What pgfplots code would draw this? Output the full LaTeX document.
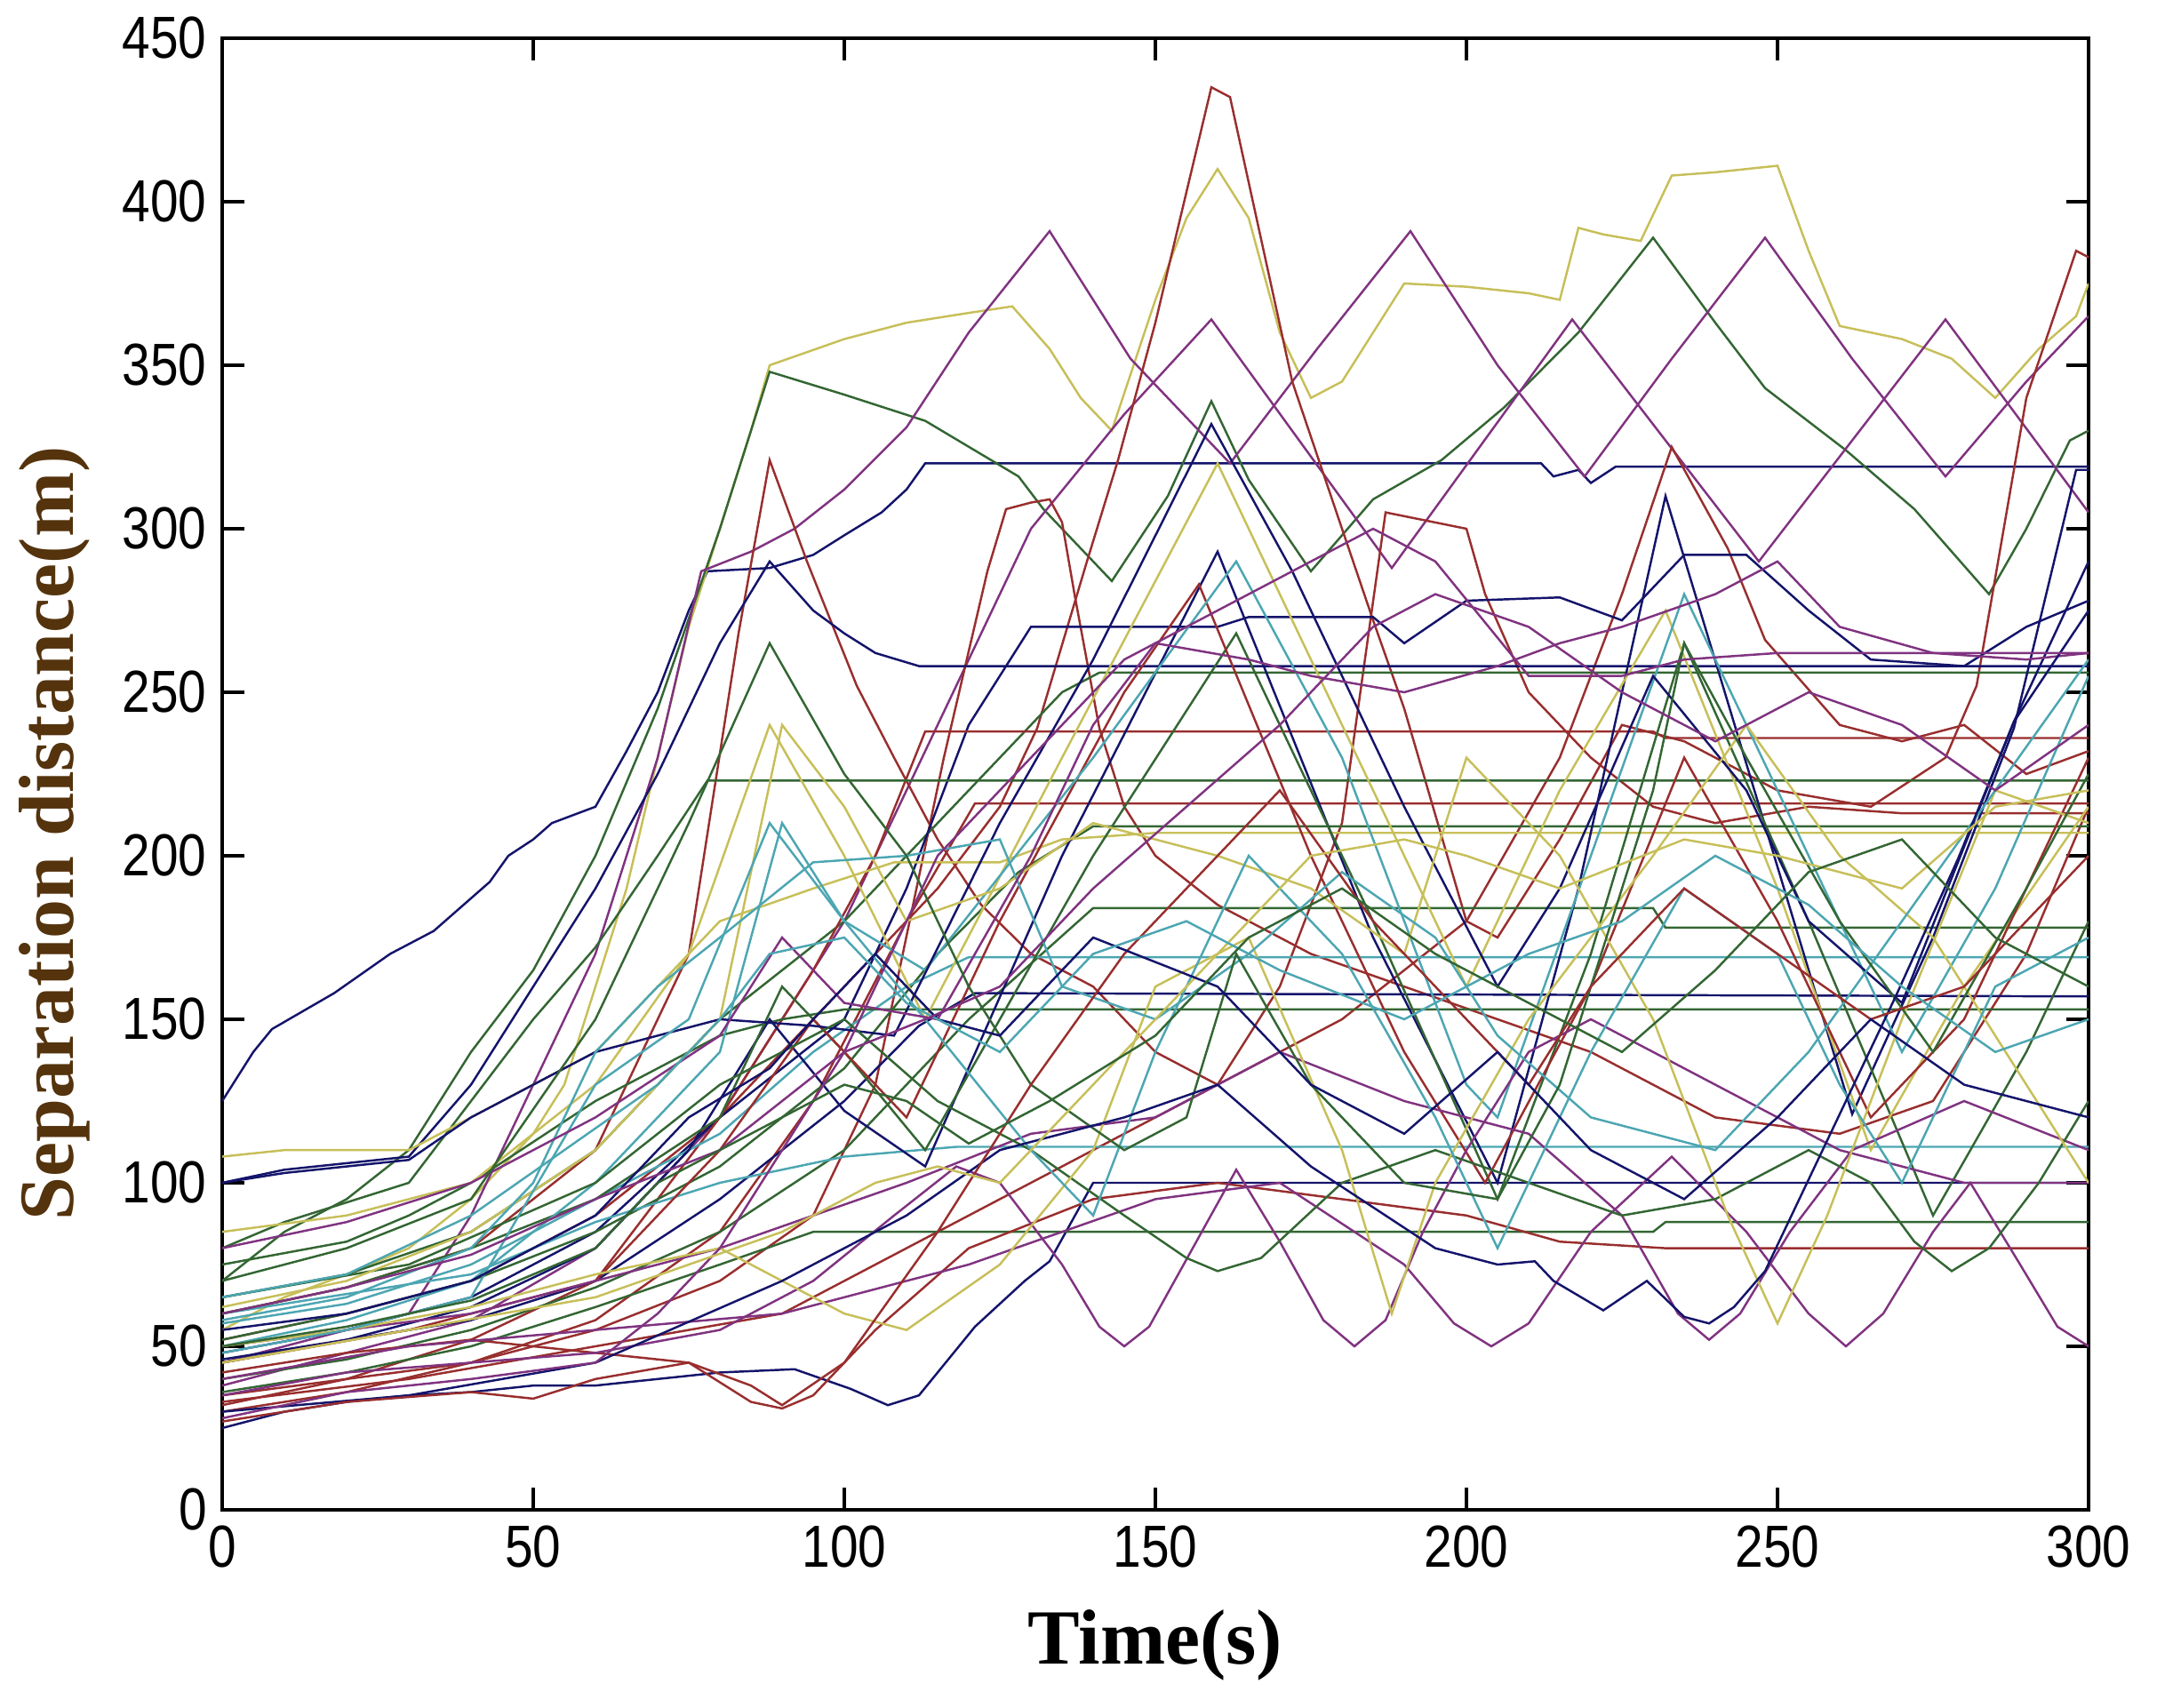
\documentclass[border=0pt]{standalone}
\usepackage{fontspec}
\setmainfont{Liberation Serif}
\newfontfamily\ticksf{Liberation Sans}
\usepackage{graphicx}
\usepackage{pgfplots}
\pgfplotsset{compat=1.18}
\definecolor{cN}{rgb}{0.08,0.08,0.42}
\definecolor{cG}{rgb}{0.2,0.4,0.2}
\definecolor{cR}{rgb}{0.6,0.18,0.18}
\definecolor{cT}{rgb}{0.3,0.65,0.7}
\definecolor{cP}{rgb}{0.5,0.2,0.5}
\definecolor{cY}{rgb}{0.78,0.75,0.35}
\definecolor{ylab}{rgb}{0.33,0.2,0.05}
\begin{document}
\begin{tikzpicture}
\begin{axis}[
  name=ax,
  scale only axis,
  width=21.00cm, height=16.56cm,
  xmin=0, xmax=300, ymin=0, ymax=450,
  xtick={0,50,...,300}, ytick={0,50,...,450},
  tick align=inside, major tick length=0.25cm,
  axis line style={line width=0.95pt},
  every tick/.style={line width=0.95pt,black},
  /pgf/number format/assume math mode=true,
  ticklabel style={font=\ticksf\fontsize{19}{19}\selectfont},
  xticklabel={\scalebox{0.85}[1]{\pgfmathprintnumber{\tick}}},
  yticklabel={\scalebox{0.85}[1]{\pgfmathprintnumber{\tick}}},
  xticklabel style={yshift=-0.05cm},
  yticklabel style={xshift=-0.05cm},
  xlabel={Time(s)},
  ylabel={Separation distance(m)},
  xlabel style={font=\bfseries\fontsize{25}{25}\selectfont, at={(axis description cs:0.5,0)}, anchor=center, yshift=-1.52cm},
  ylabel style={font=\bfseries\fontsize{25}{25}\selectfont, color=ylab, at={(axis description cs:0,0.4595)}, anchor=center, yshift=1.89cm},
  every axis plot/.append style={line width=0.7pt},
]
% 1 navy top envelope -> 320 flat
\addplot[cN] coordinates {(0,125)(5,140)(8,147)(18,158)(27,170)(34,177)(37,182)(43,192)(46,200)(50,205)(53,210)(60,215)(65,232)(70,250)(75,275)(78,287)(88,288)(95,292)(100,298)(106,305)(110,312)(113,320)(212,320)(214,316)(218,318)(220,314)(224,319)(300,319)};
% 2 olive top
\addplot[cY] coordinates {(0,55)(10,65)(20,72)(30,80)(40,95)(50,115)(55,130)(60,160)(65,190)(70,230)(75,270)(80,300)(85,330)(88,350)(100,358)(110,363)(120,366)(127,368)(133,355)(138,340)(143,330)(150,370)(155,395)(160,410)(165,395)(170,360)(175,340)(180,345)(185,360)(190,375)(200,374)(210,372)(215,370)(218,392)(222,390)(228,388)(233,408)(240,409)(250,411)(255,385)(260,362)(270,358)(278,352)(285,340)(292,355)(298,365)(300,375)};
% 3 green peak 348
\addplot[cG] coordinates {(0,70)(10,85)(20,95)(30,110)(40,140)(50,165)(60,200)(70,245)(80,300)(88,348)(100,341)(113,333)(128,316)(132,306)(143,284)(152,310)(159,339)(165,315)(175,287)(185,309)(196,321)(206,337)(218,360)(230,389)(240,363)(248,343)(261,324)(272,306)(284,280)(290,300)(297,327)(300,330)};
% 4 purple high zigzag
\addplot[cP] coordinates {(0,45)(10,50)(20,55)(30,60)(40,90)(50,130)(60,170)(70,230)(77,287)(85,293)(92,300)(100,312)(110,331)(120,360)(133,391)(146,352)(162,320)(176,355)(191,391)(205,350)(219,316)(233,352)(248,389)(262,352)(277,316)(290,345)(300,365)};
% 5 purple second zigzag
\addplot[cP] coordinates {(0,38)(20,48)(40,58)(60,80)(80,120)(100,180)(115,240)(130,300)(145,335)(159,364)(188,288)(217,364)(247,290)(277,364)(300,305)};
% 6 red peak 435
\addplot[cR] coordinates {(0,52)(20,60)(40,70)(60,90)(80,120)(95,150)(105,170)(115,190)(125,215)(131,239)(139,290)(144,321)(150,363)(159,435)(162,432)(172,345)(180,300)(185,272)(190,245)(200,180)(205,175)(215,205)(225,240)(235,235)(250,220)(265,215)(277,230)(282,252)(290,340)(298,385)(300,383)};
% red peak 325 at 233
\addplot[cR] coordinates {(0,33)(30,40)(60,50)(90,60)(120,90)(150,120)(180,150)(200,180)(215,230)(225,280)(233,325)(242,294)(248,266)(260,240)(270,235)(280,240)(290,225)(300,232)};
% 7 red peak 321 at 88
\addplot[cR] coordinates {(0,60)(20,68)(40,80)(60,110)(75,170)(83,268)(88,321)(94,290)(102,252)(108,230)(115,205)(122,185)(130,170)(140,160)(150,140)(160,130)(170,160)(180,210)(187,305)(200,300)(203,280)(210,250)(220,230)(230,215)(240,210)(255,215)(270,213)(300,213)};
% 8 red peak 309 at 133
\addplot[cR] coordinates {(0,35)(20,40)(40,45)(60,55)(80,70)(95,90)(105,130)(116,230)(123,287)(126,306)(130,308)(133,309)(135,302)(137,280)(141,239)(145,215)(150,200)(160,185)(175,170)(190,160)(205,150)(220,140)(240,120)(260,115)(275,125)(290,170)(300,215)};
% 9 navy 258 flat
\addplot[cN] coordinates {(0,100)(10,104)(20,106)(30,108)(40,130)(50,160)(60,190)(70,225)(80,265)(88,290)(95,275)(100,268)(105,262)(112,258)(300,258)};
% 10 green 256 flat
\addplot[cG] coordinates {(0,65)(20,72)(40,85)(60,110)(80,150)(100,180)(120,220)(135,250)(141,256)(300,256)};
% 11 navy 270-290 band
\addplot[cN] coordinates {(0,48)(20,55)(40,65)(60,85)(80,120)(100,150)(110,190)(120,240)(130,270)(160,270)(165,273)(185,273)(190,265)(200,278)(215,279)(225,272)(235,292)(245,292)(255,275)(265,260)(280,258)(290,270)(300,278)};
% 12 red 238 flat
\addplot[cR] coordinates {(0,32)(20,40)(40,52)(60,70)(80,120)(95,165)(105,200)(113,238)(230,238)(232,236)(300,236)};
% 13 green 223 flat
\addplot[cG] coordinates {(0,80)(10,88)(20,94)(30,100)(40,125)(50,150)(60,172)(70,200)(78,223)(300,223)};
% 14 red 216 flat
\addplot[cR] coordinates {(0,30)(20,36)(40,45)(60,58)(80,85)(95,125)(110,180)(121,216)(300,216)};
% 15 green 209 flat
\addplot[cG] coordinates {(0,52)(20,60)(40,70)(60,85)(80,105)(100,135)(115,170)(128,195)(140,209)(300,209)};
% 16 green 184/178
\addplot[cG] coordinates {(0,40)(20,46)(40,55)(60,68)(80,85)(100,110)(120,150)(140,184)(230,184)(232,178)(300,178)};
% 17 teal 169 flat
\addplot[cT] coordinates {(0,57)(20,63)(40,75)(60,95)(80,115)(95,140)(110,160)(120,169)(300,169)};
% 18 navy 157 flat
\addplot[cN] coordinates {(0,46)(20,52)(40,58)(60,70)(80,95)(100,125)(112,148)(121,158)(300,157)};
% 19 green 153 flat
\addplot[cG] coordinates {(0,75)(20,82)(30,90)(40,100)(60,125)(80,145)(90,150)(100,153)(300,153)};
% 20 teal 111 flat
\addplot[cT] coordinates {(0,60)(20,66)(40,72)(60,88)(80,100)(100,108)(118,111)(300,111)};
% 21 navy 100 flat
\addplot[cN] coordinates {(0,25)(10,30)(20,33)(30,35)(40,36)(50,38)(60,38)(70,40)(80,42)(92,43)(101,37)(107,32)(112,35)(121,56)(129,70)(133,76)(140,100)(300,100)};
% 22 green 85/88
\addplot[cG] coordinates {(0,36)(20,42)(40,50)(60,62)(80,75)(95,85)(230,85)(232,88)(300,88)};
% 23 red 80
\addplot[cR] coordinates {(0,42)(20,48)(40,52)(60,48)(75,45)(85,33)(90,31)(95,35)(105,55)(120,80)(140,95)(160,100)(180,95)(200,90)(215,82)(232,80)(300,80)};
% 24 olive 207
\addplot[cY] coordinates {(0,108)(10,110)(20,110)(30,110)(40,120)(60,140)(80,180)(95,190)(108,198)(125,198)(135,205)(150,207)(300,207)};
% 25 navy zigzag
\addplot[cN] coordinates {(0,45)(20,52)(40,62)(60,80)(75,110)(88,150)(100,122)(113,105)(135,200)(160,293)(185,175)(205,100)(218,190)(232,310)(262,121)(275,175)(288,239)(298,318)(300,318)};
% 26 green zigzag
\addplot[cG] coordinates {(0,60)(20,68)(40,80)(60,95)(80,120)(90,160)(100,140)(113,110)(140,200)(163,268)(185,180)(205,95)(220,170)(235,265)(255,180)(275,90)(290,140)(300,180)};
% 27 olive zigzag
\addplot[cY] coordinates {(0,85)(20,90)(40,100)(60,130)(75,170)(88,240)(100,200)(113,150)(135,230)(160,320)(180,240)(200,160)(215,220)(232,275)(250,190)(265,110)(280,160)(300,215)};
% 28 red zigzag
\addplot[cR] coordinates {(0,45)(30,55)(60,70)(80,110)(95,150)(110,120)(125,180)(145,250)(157,283)(175,200)(190,140)(203,100)(220,160)(235,230)(250,180)(265,120)(280,150)(300,230)};
% 29 teal zigzag
\addplot[cT] coordinates {(0,50)(20,58)(40,70)(60,100)(80,140)(90,210)(100,180)(113,165)(140,230)(163,290)(180,230)(200,130)(205,120)(220,200)(235,280)(250,220)(270,140)(285,190)(300,255)};
% 30 navy zigzag 2
\addplot[cN] coordinates {(0,100)(10,103)(30,107)(40,120)(60,140)(80,150)(95,148)(108,145)(125,210)(140,260)(159,332)(172,287)(190,215)(205,160)(215,190)(230,255)(245,220)(255,180)(270,155)(288,241)(300,290)};
% 31 purple cups A
\addplot[cP] coordinates {(0,35)(20,42)(40,45)(60,48)(80,55)(95,70)(108,90)(118,105)(125,100)(135,75)(141,56)(145,50)(149,56)(156,80)(163,104)(170,82)(177,58)(182,50)(187,58)(193,85)(200,110)(210,140)(220,150)(240,130)(260,110)(280,100)(300,100)};
% 32 purple cups B
\addplot[cP] coordinates {(0,40)(30,50)(60,55)(90,60)(120,75)(150,95)(170,100)(190,75)(198,57)(204,50)(210,57)(220,85)(233,108)(245,85)(255,60)(261,50)(267,60)(275,85)(281,100)(289,75)(295,56)(300,50)};
% 33 purple cups C
\addplot[cP] coordinates {(0,50)(40,60)(80,80)(110,100)(130,115)(150,120)(170,140)(190,125)(210,115)(225,90)(234,60)(239,52)(244,60)(252,85)(262,110)(280,125)(300,110)};
% 34 dark green cups
\addplot[cG] coordinates {(0,65)(30,75)(60,100)(80,130)(100,150)(115,125)(130,110)(145,90)(155,77)(160,73)(167,77)(180,100)(195,110)(210,100)(225,90)(240,95)(255,110)(265,100)(272,82)(278,73)(284,80)(292,100)(300,125)};
% 35 olive 1
\addplot[cY] coordinates {(0,62)(20,70)(40,85)(60,110)(80,150)(90,240)(100,215)(110,180)(125,190)(140,210)(160,200)(175,190)(190,170)(200,230)(215,200)(230,150)(242,90)(250,57)(258,90)(270,150)(285,220)(300,210)};
% 36 olive 2
\addplot[cY] coordinates {(0,50)(20,55)(40,62)(60,72)(80,80)(100,60)(110,55)(125,75)(140,110)(150,160)(165,175)(180,110)(188,60)(195,100)(210,150)(230,200)(245,240)(260,200)(275,175)(290,130)(300,100)};
% 37 teal 2
\addplot[cT] coordinates {(0,48)(20,55)(40,65)(60,130)(75,150)(88,210)(100,180)(113,150)(130,110)(140,90)(150,140)(165,200)(180,170)(195,120)(205,80)(220,140)(235,190)(250,170)(260,130)(270,100)(285,160)(300,175)};
% 38 teal 3
\addplot[cT] coordinates {(0,58)(20,65)(40,80)(50,100)(60,140)(70,160)(80,175)(95,198)(110,200)(125,205)(135,160)(150,150)(165,170)(180,195)(195,175)(205,145)(220,120)(240,110)(255,140)(270,180)(285,220)(300,260)};
% 39 purple mid band
\addplot[cP] coordinates {(0,80)(20,88)(40,100)(60,120)(80,145)(90,175)(100,155)(115,150)(130,200)(140,240)(150,265)(165,260)(175,255)(190,250)(205,258)(215,265)(225,270)(240,280)(250,290)(260,270)(275,262)(290,260)(300,262)};
% 40 green peak 265 at 88
\addplot[cG] coordinates {(0,70)(20,80)(40,95)(60,150)(75,210)(88,265)(100,225)(110,200)(120,160)(130,130)(145,110)(155,120)(163,170)(175,130)(190,100)(205,95)(215,130)(230,220)(235,265)(245,230)(260,180)(275,140)(290,190)(300,225)};
% 41 navy bottom cups
\addplot[cN] coordinates {(0,30)(30,35)(60,45)(90,70)(110,90)(125,110)(145,120)(160,130)(175,105)(195,80)(205,75)(211,76)(214,70)(222,61)(229,70)(235,59)(239,57)(243,62)(248,73)(255,101)(269,157)(279,199)(288,241)(300,275)};
% 42 red lower zigzag
\addplot[cR] coordinates {(0,27)(20,33)(40,36)(50,34)(60,40)(75,45)(85,38)(90,32)(100,45)(115,85)(130,130)(145,170)(160,200)(170,220)(185,180)(200,150)(210,130)(220,160)(235,190)(250,170)(265,150)(280,160)(300,200)};
% 43 purple upper 2
\addplot[cP] coordinates {(0,28)(20,36)(40,40)(60,45)(70,60)(80,80)(90,110)(100,140)(115,200)(130,230)(145,260)(160,275)(175,290)(185,300)(195,290)(210,255)(225,255)(235,260)(250,262)(265,262)(280,262)(300,262)};
% 44 olive mid
\addplot[cY] coordinates {(0,45)(30,55)(60,65)(90,85)(105,100)(115,105)(125,100)(140,130)(150,150)(160,170)(175,200)(190,205)(200,200)(215,190)(235,205)(250,200)(270,190)(285,215)(300,220)};
% 45 navy extra
\addplot[cN] coordinates {(0,55)(20,60)(40,70)(60,90)(75,120)(88,135)(95,150)(105,170)(115,150)(125,145)(140,175)(160,160)(175,130)(190,115)(205,140)(220,110)(235,95)(250,120)(265,150)(280,130)(300,120)};
% 46 teal extra
\addplot[cT] coordinates {(0,65)(20,72)(40,90)(55,110)(70,130)(80,150)(88,170)(100,175)(110,155)(125,140)(140,170)(155,180)(170,165)(190,150)(210,170)(225,180)(240,200)(255,185)(270,160)(285,140)(300,150)};
% 47 purple extra
\addplot[cP] coordinates {(0,60)(20,68)(40,78)(60,95)(80,110)(90,125)(100,140)(113,150)(125,160)(140,190)(155,215)(170,240)(185,270)(195,280)(210,270)(225,250)(240,235)(255,250)(270,240)(285,220)(300,240)};
% 48 green extra
\addplot[cG] coordinates {(0,50)(20,56)(40,64)(60,80)(70,100)(80,110)(90,120)(100,130)(110,125)(120,112)(133,125)(150,145)(165,175)(180,190)(195,170)(210,155)(225,140)(240,165)(255,195)(270,205)(285,175)(300,160)};
\coordinate (A) at (rel axis cs:0,0);
\end{axis}
\pgfresetboundingbox
\path[use as bounding box] (A) ++(-2.50cm,-2.23cm) rectangle ++(24.27cm,19.22cm);
\end{tikzpicture}
\end{document}
